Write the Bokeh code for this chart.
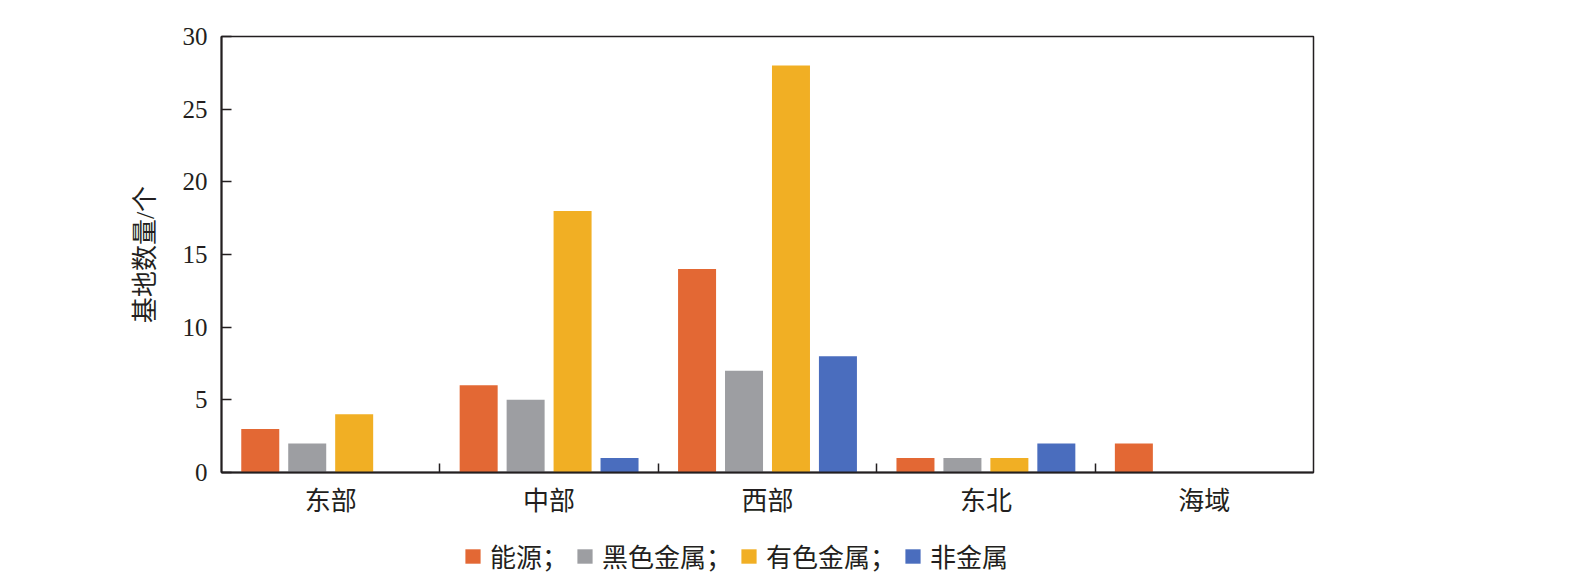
from bokeh.plotting import figure
from bokeh.layouts import column
from bokeh.models import ColumnDataSource, FixedTicker, Legend, LegendItem, Range1d
from bokeh.transform import dodge
from bokeh.embed import file_html
from bokeh.resources import INLINE

categories = ["东部", "中部", "西部", "东北", "海域"]
series_names = ["能源；", "黑色金属；", "有色金属；", "非金属"]
energy = [3, 6, 14, 1, 2]
ferrous = [2, 5, 7, 1, 0]
nonferrous = [4, 18, 28, 1, 0]
nonmetal = [0, 1, 8, 2, 0]
y_ticks = [0, 5, 10, 15, 20, 25, 30]

colors = ["#E36834", "#9D9EA2", "#F1AF24", "#4A6DBE"]
FONT = "'Liberation Serif', 'Noto Sans CJK SC'"
TXT = "#231F20"

xpos = [i + 0.5 for i in range(len(categories))]
src = ColumnDataSource(dict(x=xpos, s0=energy, s1=ferrous, s2=nonferrous, s3=nonmetal))

p = figure(width=1570, height=538, output_backend="svg", toolbar_location=None,
           x_range=Range1d(0, len(categories)), y_range=Range1d(0, 30),
           min_border_left=221, min_border_right=257, min_border_top=36, min_border_bottom=66)
p.background_fill_color = "white"
p.border_fill_color = "white"
p.outline_line_color = "#231F20"
p.outline_line_width = 1.5
p.xgrid.visible = False
p.ygrid.visible = False

step = 0.215
bw = 0.174
for k, col in enumerate(["s0", "s1", "s2", "s3"]):
    p.vbar(x=dodge("x", (k - 1.5) * step, range=p.x_range), top=col, width=bw,
           bottom=0, source=src, fill_color=colors[k], line_color=None)

# x axis
xa = p.xaxis[0]
xa.ticker = FixedTicker(ticks=xpos, minor_ticks=[1, 2, 3, 4])
xa.major_label_overrides = {x: c for x, c in zip(xpos, categories)}
xa.major_tick_line_color = None
xa.major_tick_in = 0
xa.major_tick_out = 0
xa.minor_tick_in = 9
xa.minor_tick_out = 0
xa.minor_tick_line_color = "#231F20"
xa.minor_tick_line_width = 1.5
xa.axis_line_color = "#231F20"
xa.axis_line_width = 2
xa.major_label_text_font = FONT
xa.major_label_text_font_size = "26px"
xa.major_label_text_color = TXT
xa.major_label_standoff = 14

ya = p.yaxis[0]
ya.ticker = FixedTicker(ticks=y_ticks)
ya.major_tick_in = 10
ya.major_tick_out = 0
ya.major_tick_line_width = 1.5
ya.major_tick_line_color = "#231F20"
ya.minor_tick_line_color = None
ya.axis_line_color = "#231F20"
ya.axis_line_width = 2
ya.major_label_text_font = FONT
ya.major_label_text_font_size = "25px"
ya.major_label_text_color = TXT
ya.major_label_standoff = 14
ya.axis_label = "基地数量/个"
ya.axis_label_text_font = FONT
ya.axis_label_text_font_size = "26px"
ya.axis_label_text_font_style = "normal"
ya.axis_label_text_color = TXT
ya.axis_label_standoff = 20

# legend strip (its frame is aligned with the main frame by the column layout);
# its proxy bars have zero height so only the legend swatches show
lg = figure(width=1570, height=40, output_backend="svg", toolbar_location=None,
            x_range=Range1d(0, len(categories)), y_range=Range1d(0, 1),
            x_axis_type=None, y_axis_type=None,
            min_border_left=221, min_border_right=257, min_border_top=0, min_border_bottom=0)
lg.outline_line_color = None
lg.background_fill_color = "white"
lg.border_fill_color = "white"
lg.xgrid.visible = False
lg.ygrid.visible = False
lg_renderers = []
for k in range(len(series_names)):
    r = lg.vbar(x=dodge("x", (k - 1.5) * step, range=lg.x_range), top=0, width=bw,
                bottom=0, source=src, fill_color=colors[k], line_color=None)
    lg_renderers.append(r)
legend = Legend(items=[LegendItem(label=n, renderers=[r]) for n, r in zip(series_names, lg_renderers)],
                orientation="horizontal", location=(242, 4),
                glyph_width=19, glyph_height=18, label_standoff=8, spacing=7,
                padding=0, margin=0, border_line_color=None, background_fill_alpha=0,
                label_text_font=FONT, label_text_font_size="26px", label_text_color=TXT,
                label_height=18)
lg.add_layout(legend, "center")

layout = column(p, lg, spacing=0)
open("out.html", "w").write(file_html(layout, INLINE))
